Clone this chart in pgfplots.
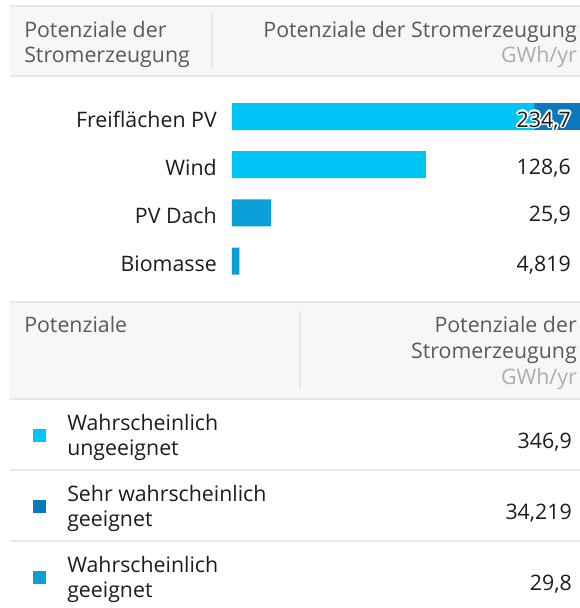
\documentclass[border=0pt]{standalone}
\usepackage{fontspec}
\setmainfont{Open Sans}
\usepackage{pgfplots}
\pgfplotsset{compat=1.18}
\usepackage{pgfplotstable}

\definecolor{unge}{HTML}{00C4F4}
\definecolor{sehr}{HTML}{0B78BE}
\definecolor{wage}{HTML}{0B9ED8}
\definecolor{rulec}{HTML}{E8E8E8}
\definecolor{headbg}{HTML}{F7F7F7}
\definecolor{headtxt}{HTML}{5A5A5A}
\definecolor{unitc}{HTML}{ADADAD}
\definecolor{txt}{HTML}{1C1C1C}

% idx: 0 Freiflaechen PV, 1 Wind, 2 PV Dach, 3 Biomasse
\pgfplotstableread{
idx unge sehr wage
0 200.5 34.2 0
1 128.6 0 0
2 0 0 25.9
3 0 0 4.819
}\potdata

\newcommand\fs{\fontsize{16pt}{19pt}\selectfont}

\begin{document}
\begin{tikzpicture}
\begin{scope}[x=0.75pt,y=-0.75pt]
\useasboundingbox (0,0) rectangle (580,608);
% header 1
\fill[headbg] (10,6) rectangle (580,76);
\draw[rulec,line width=1.5pt] (10,6) -- (580,6) (10,76) -- (580,76);
\draw[rulec,line width=1pt] (212,14) -- (212,68);
% header 2
\fill[headbg] (10,302) rectangle (580,399);
\draw[rulec,line width=1.5pt] (10,302) -- (580,302) (10,399) -- (580,399);
\draw[rulec,line width=1pt] (300,311) -- (300,390);
% row rules
\draw[rulec,line width=1.5pt] (10,470) -- (580,470) (10,541) -- (580,541);
\begin{scope}[every node/.style={inner sep=0pt,font=\fs,text=headtxt}]
\node[anchor=base west] at (24,37) {Potenziale der};
\node[anchor=base west] at (24,62) {Stromerzeugung};
\node[anchor=base east] at (577,37) {Potenziale der Stromerzeugung};
\node[anchor=base east,text=unitc] at (577,62) {GWh/yr};
\node[anchor=base west] at (24,332) {Potenziale};
\node[anchor=base east] at (577,332) {Potenziale der};
\node[anchor=base east] at (577,358) {Stromerzeugung};
\node[anchor=base east,text=unitc] at (577,384) {GWh/yr};
\end{scope}
% legend rows
\fill[unge] (33,429) rectangle (46,442);
\fill[sehr] (33,500) rectangle (46,513);
\fill[wage] (33,571) rectangle (46,584);
\begin{scope}[every node/.style={inner sep=0pt,font=\fs,text=txt}]
\node[anchor=base west] at (67,430) {Wahrscheinlich};
\node[anchor=base west] at (67,455) {ungeeignet};
\node[anchor=base west] at (67,501) {Sehr wahrscheinlich};
\node[anchor=base west] at (67,526) {geeignet};
\node[anchor=base west] at (67,572) {Wahrscheinlich};
\node[anchor=base west] at (67,597) {geeignet};
\node[anchor=base east] at (572,448) {346,9};
\node[anchor=base east] at (572,519) {34,219};
\node[anchor=base east] at (572,590) {29,8};
\end{scope}
\end{scope}

\begin{axis}[
    at={(174pt,-69.3pt)}, anchor=north west,
    scale only axis, width=261pt, height=144.6pt,
    xbar stacked, bar width=20.25pt,
    xmin=0, xmax=230.8, ymin=-0.5, ymax=3.5,
    y dir=reverse,
    axis line style={draw=none}, tick style={draw=none},
    major tick length=0pt,
    xtick=\empty,
    ytick={0,1,2,3},
    yticklabels={Freiflächen PV,Wind,PV Dach,Biomasse},
    yticklabel style={anchor=base east, inner sep=0pt,
        xshift=-11.25pt, yshift=-8.1pt, font=\fs, text=txt},
]
\addplot[fill=unge, draw=none] table[x=unge, y=idx] {\potdata};
\addplot[fill=sehr, draw=none] table[x=sehr, y=idx] {\potdata};
\addplot[fill=wage, draw=none] table[x=wage, y=idx] {\potdata};
\end{axis}

\begin{scope}[x=0.75pt,y=-0.75pt,every node/.style={inner sep=0pt,font=\fs,text=txt}]
\foreach \a in {0,30,...,330}
  \node[anchor=base east,text=white,xshift={1.3pt*cos(\a)},yshift={1.3pt*sin(\a)}] at (571,127) {234,7};
\node[anchor=base east] at (571,127) {234,7};
\node[anchor=base east] at (571,174) {128,6};
\node[anchor=base east] at (571,221) {25,9};
\node[anchor=base east] at (571,271) {4,819};
\end{scope}
\end{tikzpicture}
\end{document}
